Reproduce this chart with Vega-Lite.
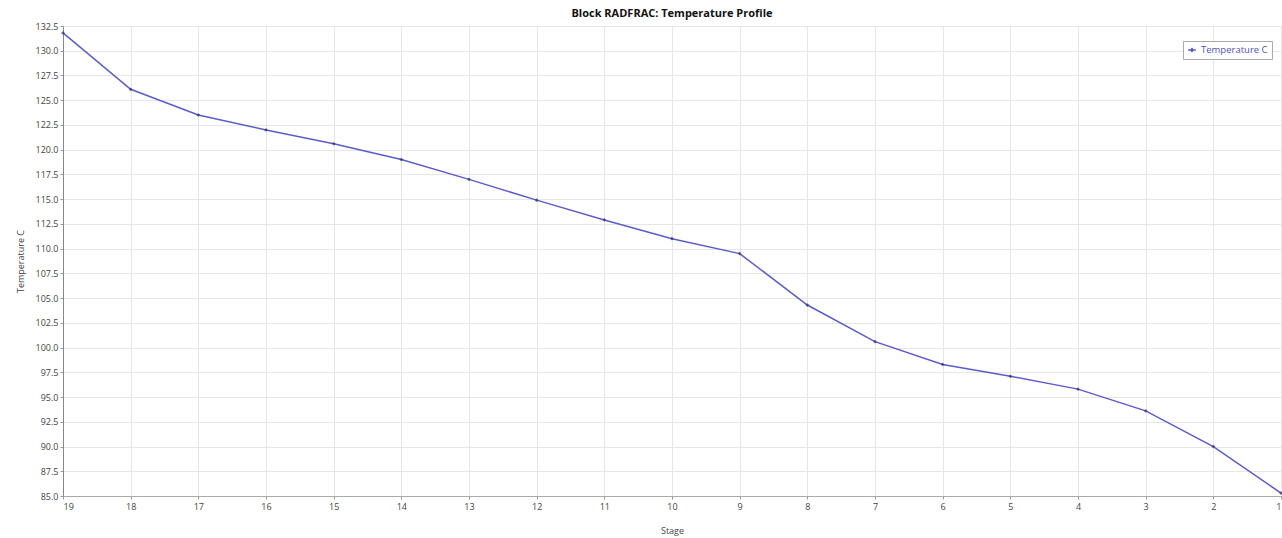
{
  "$schema": "https://vega.github.io/schema/vega-lite/v6.json",
  "autosize": {"type": "none"},
  "width": 1218,
  "height": 470,
  "padding": {"left": 63, "top": 26, "right": 1, "bottom": 42},
  "background": "#ffffff",
  "title": {
    "text": "Block RADFRAC: Temperature Profile",
    "fontSize": 11,
    "fontWeight": "bold",
    "font": "Open Sans",
    "color": "#111111",
    "anchor": "middle",
    "offset": 3
  },
  "config": {
    "view": {"stroke": null},
    "font": "Open Sans",
    "axis": {
      "labelFont": "Open Sans",
      "labelFontSize": 9,
      "labelColor": "#444444",
      "titleFont": "Open Sans",
      "titleFontSize": 9,
      "titleFontWeight": "normal",
      "titleColor": "#444444",
      "gridColor": "#e6e6e6",
      "gridWidth": 1,
      "tickColor": "#999999",
      "tickSize": 3
    }
  },
  "data": {
    "values": [
      {"stage": 19, "temp": 131.8, "series": "Temperature C"},
      {"stage": 18, "temp": 126.1, "series": "Temperature C"},
      {"stage": 17, "temp": 123.5, "series": "Temperature C"},
      {"stage": 16, "temp": 122.0, "series": "Temperature C"},
      {"stage": 15, "temp": 120.6, "series": "Temperature C"},
      {"stage": 14, "temp": 119.0, "series": "Temperature C"},
      {"stage": 13, "temp": 117.0, "series": "Temperature C"},
      {"stage": 12, "temp": 114.9, "series": "Temperature C"},
      {"stage": 11, "temp": 112.9, "series": "Temperature C"},
      {"stage": 10, "temp": 111.0, "series": "Temperature C"},
      {"stage": 9, "temp": 109.5, "series": "Temperature C"},
      {"stage": 8, "temp": 104.3, "series": "Temperature C"},
      {"stage": 7, "temp": 100.6, "series": "Temperature C"},
      {"stage": 6, "temp": 98.3, "series": "Temperature C"},
      {"stage": 5, "temp": 97.1, "series": "Temperature C"},
      {"stage": 4, "temp": 95.8, "series": "Temperature C"},
      {"stage": 3, "temp": 93.6, "series": "Temperature C"},
      {"stage": 2, "temp": 90.0, "series": "Temperature C"},
      {"stage": 1, "temp": 85.3, "series": "Temperature C"}
    ]
  },
  "encoding": {
    "x": {
      "field": "stage",
      "type": "quantitative",
      "title": "Stage",
      "scale": {"domain": [1, 19], "reverse": true, "nice": false, "zero": false},
      "axis": {
        "values": [19, 18, 17, 16, 15, 14, 13, 12, 11, 10, 9, 8, 7, 6, 5, 4, 3, 2, 1],
        "format": "d",
        "domainColor": "#aaaaaa",
        "labelPadding": 3,
        "titlePadding": 15
      }
    },
    "y": {
      "field": "temp",
      "type": "quantitative",
      "title": "Temperature C",
      "scale": {"domain": [85, 132.5], "nice": false, "zero": false},
      "axis": {
        "values": [85, 87.5, 90, 92.5, 95, 97.5, 100, 102.5, 105, 107.5, 110, 112.5, 115, 117.5, 120, 122.5, 125, 127.5, 130, 132.5],
        "format": ".1f",
        "domainColor": "#888888",
        "labelPadding": 2,
        "titlePadding": 10
      }
    }
  },
  "layer": [
    {
      "mark": {"type": "line", "strokeWidth": 1.5, "clip": false},
      "encoding": {
        "color": {
          "field": "series",
          "type": "nominal",
          "scale": {"range": ["#5c5cc8"]},
          "legend": {
            "title": null,
            "orient": "none",
            "legendX": 1120,
            "legendY": 15,
            "strokeColor": "#aaaaaa",
            "fillColor": "#ffffff",
            "padding": 4,
            "labelFont": "Open Sans",
            "labelFontSize": 9.5,
            "labelColor": "#5050c0",
            "labelLimit": 200,
            "symbolType": "M-1,0L1,0M-0.35,0L0,-0.35L0.35,0L0,0.35Z",
            "symbolSize": 60,
            "symbolStrokeWidth": 1.5
          }
        }
      }
    },
    {
      "mark": {"type": "point", "shape": "diamond", "filled": true, "size": 14, "color": "#2e2e70", "clip": false},
      "encoding": {}
    }
  ]
}
